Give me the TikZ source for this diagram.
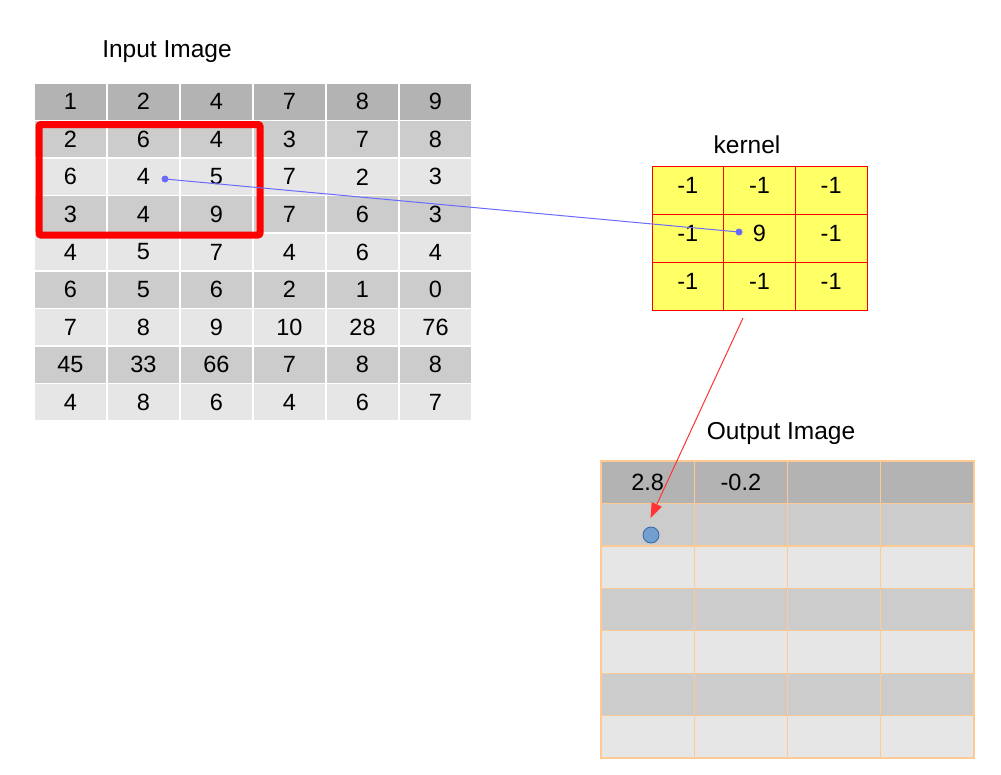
\documentclass[tikz,border=0pt]{standalone}
\usepackage{fontspec}
\setmainfont{Liberation Sans}
\usetikzlibrary{arrows.meta}
\definecolor{hdr}{HTML}{B3B3B3}
\definecolor{dark}{HTML}{CCCCCC}
\definecolor{light}{HTML}{E6E6E6}
\definecolor{kyel}{HTML}{FFFF66}
\definecolor{kred}{HTML}{FF0000}
\definecolor{dotblue}{HTML}{6A6AFF}
\definecolor{outln}{HTML}{FFC993}
\definecolor{circfill}{HTML}{729FCF}
\definecolor{circline}{HTML}{3465A4}
\definecolor{arrred}{HTML}{FF3333}
\begin{document}
\begin{tikzpicture}[x=1pt,y=-1pt,
  font=\fontsize{23.5}{27}\selectfont,
  title/.style={font=\fontsize{24.5}{28}\selectfont, inner sep=0pt},
  incell/.style={minimum width=73pt, minimum height=37.56pt, draw=white, line width=1.5pt, inner sep=0pt},
  kcell/.style={minimum width=71.67pt, minimum height=48pt, draw=kred, line width=1pt, fill=kyel, inner sep=0pt},
  ktext/.style={inner sep=0pt},
  ocell/.style={minimum width=93.25pt, minimum height=42.43pt, draw=outln, line width=1.3pt, inner sep=0pt},
  dot/.style={circle, fill=dotblue, minimum size=7pt, inner sep=0pt},
  redbox/.style={draw=red, line width=7pt, rounded corners=2pt},
  link/.style={draw=dotblue, line width=1pt},
  redarrow/.style={draw=arrred, line width=1pt, -{Triangle[length=15pt,width=11pt]}}
]
\useasboundingbox (0,0) rectangle (1001,774);

% titles
\node[title] (tin) at (167,51.5) {Input Image};
\node[title] (tk) at (747,144.5) {kernel};
\node[title] (tout) at (781,433.5) {Output Image};

% input image
\foreach \r/\vals/\col in {
  1/{1,2,4,7,8,9}/hdr,
  2/{2,6,4,3,7,8}/dark,
  3/{6,4,5,7,2,3}/light,
  4/{3,4,9,7,6,3}/dark,
  5/{4,5,7,4,6,4}/light,
  6/{6,5,6,2,1,0}/dark,
  7/{7,8,9,10,28,76}/light,
  8/{45,33,66,7,8,8}/dark,
  9/{4,8,6,4,6,7}/light} {
  \foreach \v [count=\c] in \vals {
    \node[incell, fill=\col] (in-\r-\c) at ({34+73*(\c-0.5)},{83+37.56*(\r-0.5)}) {\v};
  }
}

% red selection box
\draw[redbox] (39,124.5) rectangle (260,235);

% kernel
\foreach \r/\vals in {1/{-1,-1,-1}, 2/{-1,9,-1}, 3/{-1,-1,-1}} {
  \foreach \v [count=\c] in \vals {
    \node[kcell] (k-\r-\c) at ({652+71.67*(\c-0.5)},{166+48*(\r-0.5)}) {};
    \node[ktext] (kt-\r-\c) at ([yshift=4.5pt]k-\r-\c.center) {\v};
  }
}

% output image
\foreach \r/\col in {1/hdr,2/dark,3/light,4/dark,5/light,6/dark,7/light} {
  \foreach \c in {1,2,3,4} {
    \node[ocell, fill=\col] (o-\r-\c) at ({601+93.25*(\c-0.5)},{461+42.43*(\r-0.5)}) {};
  }
}
\node[inner sep=0pt] (ot1) at (o-1-1.center) {2.8};
\node[inner sep=0pt] (ot2) at (o-1-2.center) {-0.2};

% connectors
\node[dot] (dA) at (165,179) {};
\node[dot] (dB) at (739,232) {};
\draw[link] (dA.center) -- (dB.center);

\node[circle, fill=circfill, draw=circline, line width=0.8pt, minimum size=16pt, inner sep=0pt] (oc) at (651,535) {};
\coordinate (aS) at (743,318);
\coordinate (aE) at (650.5,518);
\draw[redarrow] (aS) -- (aE);
\end{tikzpicture}
\end{document}
